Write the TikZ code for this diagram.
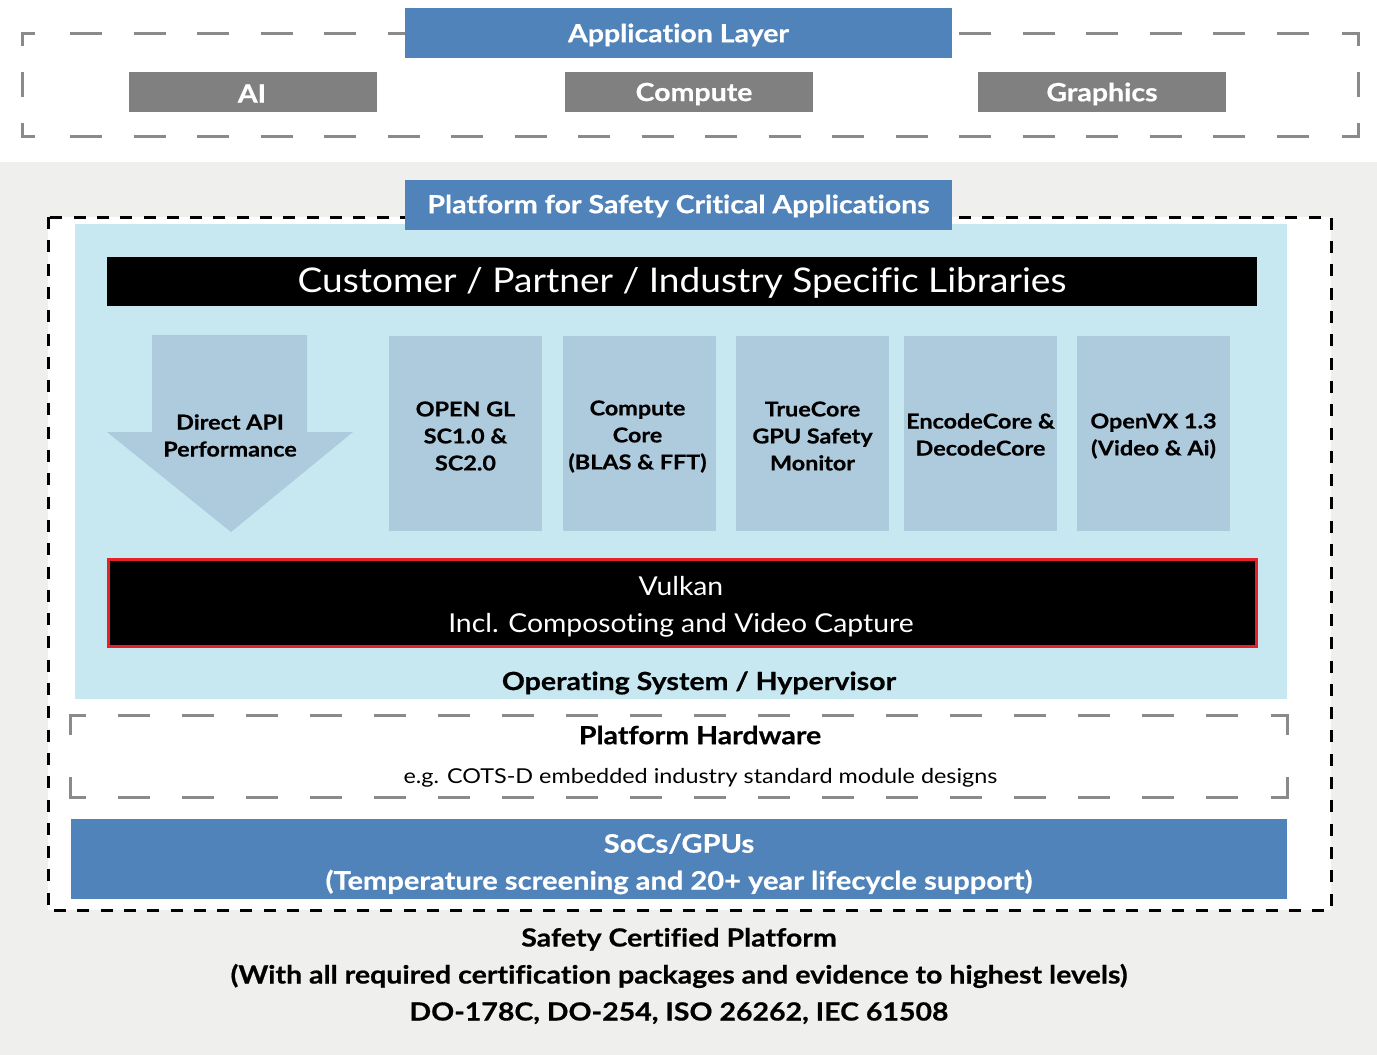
\documentclass[tikz,border=0pt]{standalone}
\usepackage{fontspec}
\setmainfont{Lato}[Ligatures=NoCommon]
\newfontfamily\wideb{Lato}[FakeStretch=1.14, FakeBold=0.6, Ligatures=NoCommon]
\newfontfamily\wider{Lato}[FakeStretch=1.09, Ligatures=NoCommon]
\newfontfamily\widest{Lato}[FakeStretch=1.14, Ligatures=NoCommon]
\definecolor{myblue}{HTML}{4F83B9}
\definecolor{mygray}{HTML}{808080}
\definecolor{lightbg}{HTML}{C7E8F1}
\definecolor{boxblue}{HTML}{AECBDD}
\definecolor{pagegray}{HTML}{EFEFED}
\definecolor{myred}{HTML}{E8202A}
\definecolor{dashgray}{HTML}{8A8A8A}
\tikzset{
  plain/.style={inner sep=0pt, outer sep=0pt},
  bluebox/.style={plain, fill=myblue, text=white, font=\wideb\bfseries\fontsize{25}{30}\selectfont},
  graybox/.style={plain, fill=mygray, text=white, font=\wideb\bfseries\fontsize{25}{30}\selectfont},
  compbox/.style={plain, fill=boxblue, minimum width=153, minimum height=195},
  comptext/.style={plain, align=center, font=\wideb\bfseries\fontsize{20.5}{27}\selectfont},
  graydash/.style={draw=dashgray, line width=3pt},
  blackdash/.style={draw=black, line width=3pt, dash pattern=on 12 off 11.3},
  title/.style={plain, font=\wideb\bfseries\fontsize{25}{30}\selectfont},
}
\begin{document}
\begin{tikzpicture}[x=1pt,y=-1pt]
\useasboundingbox (0,0) rectangle (1377,1055);
% backgrounds
\fill[white] (0,0) rectangle (1377,162);
\fill[pagegray] (0,162) rectangle (1377,1055);
% ---------- application layer ----------
\draw[graydash] (22,46) -- (22,33) -- (35,33);
\draw[graydash] (1342,33) -- (1358,33) -- (1358,46);
\draw[graydash] (22,123) -- (22,136) -- (35,136);
\draw[graydash] (1342,136) -- (1358,136) -- (1358,123);
\draw[graydash, dash pattern=on 32 off 31.5] (70,33) -- (1310,33);
\draw[graydash, dash pattern=on 32 off 31.5] (70,136) -- (1310,136);
\draw[graydash] (22,72) -- (22,97);
\draw[graydash] (1358,72) -- (1358,97);
\node[bluebox, minimum width=547, minimum height=50] (app) at (678.5,33) {};
\node[bluebox, fill=none] (applbl) at (678.5,35) {Application Layer};
\node[graybox, minimum width=248, minimum height=40] (ai) at (253,92) {};
\node[graybox, fill=none] (ailbl) at (252,93.5) {AI};
\node[graybox, minimum width=248, minimum height=40] (compute) at (689,92) {};
\node[graybox, fill=none] (complbl) at (694,94) {Compute};
\node[graybox, minimum width=248, minimum height=40] (graphics) at (1102,92) {};
\node[graybox, fill=none] (graphlbl) at (1102,94) {Graphics};
% ---------- safety platform ----------
\draw[blackdash, fill=white] (48,217) rectangle (1331,910);
\fill[lightbg] (75,224) rectangle (1287,699);
\node[bluebox, minimum width=547, minimum height=50] (psca) at (678.5,205) {};
\node[bluebox, fill=none] (pscalbl) at (678.5,206) {Platform for Safety Critical Applications};
\node[plain, fill=black, minimum width=1150, minimum height=49] (libs) at (682,281.5) {};
\node[plain, text=white, font=\wider\fontsize{34}{40}\selectfont] (libslbl) at (682,283) {Customer / Partner / Industry Specific Libraries};
% arrow
\path[fill=boxblue] (152,335) -- (307,335) -- (307,432) -- (353,432) -- (231,532) -- (107,432) -- (152,432) -- cycle;
\node[comptext] (direct) at (230,435.5) {Direct API\\Performance};
% component boxes
\node[compbox] (ogl) at (465.5,433.5) {};
\node[comptext] (ogllbl) at (465.5,436) {OPEN GL\\SC1.0 \&\\SC2.0};
\node[compbox] (cc) at (639.5,433.5) {};
\node[comptext] (cclbl) at (637.5,436.5) {Compute\\Core\\(BLAS \& FFT)};
\node[compbox] (tc) at (812.5,433.5) {};
\node[comptext] (tclbl) at (812.5,436) {TrueCore\\GPU Safety\\Monitor};
\node[compbox] (enc) at (980.5,433.5) {};
\node[comptext] (enclbl) at (980.5,434.5) {EncodeCore \&\\DecodeCore};
\node[compbox] (ovx) at (1153.5,433.5) {};
\node[comptext] (ovxlbl) at (1153.5,436) {OpenVX 1.3\\(Video \& Ai)};
% vulkan
\node[plain, draw=myred, line width=3pt, fill=black, minimum width=1148, minimum height=87] (vk) at (682.5,603) {};
\node[plain, text=white, font=\wider\fontsize{26}{37}\selectfont, align=center] (vklbl) at (681,607) {Vulkan\\Incl. Composoting and Video Capture};
\node[title] (os) at (699,683) {Operating System / Hypervisor};
% platform hardware
\draw[graydash] (70,735) -- (70,715) -- (86,715);
\draw[graydash] (1271,715) -- (1287,715) -- (1287,735);
\draw[graydash] (70,777) -- (70,797) -- (86,797);
\draw[graydash] (1271,797) -- (1287,797) -- (1287,777);
\draw[graydash, dash pattern=on 32 off 32] (118,715) -- (1239,715);
\draw[graydash, dash pattern=on 32 off 32] (118,797) -- (1239,797);
\node[title] (hw) at (700,735) {Platform Hardware};
\node[plain, font=\widest\fontsize{20.5}{24}\selectfont] (hwsub) at (700.5,778) {e.g. COTS-D embedded industry standard module designs};
% socs
\node[bluebox, minimum width=1216, minimum height=80] (soc) at (679,859) {};
\node[bluebox, fill=none, align=center, font=\wideb\bfseries\fontsize{25.5}{37}\selectfont] (soclbl) at (679,864) {SoCs/GPUs\\(Temperature screening and 20+ year lifecycle support)};
% bottom text
\node[title, align=center, font=\wideb\bfseries\fontsize{25}{37}\selectfont] (cert) at (679,976) {Safety Certified Platform\\(With all required certification packages and evidence to highest levels)\\DO-178C, DO-254, ISO 26262, IEC 61508};
\end{tikzpicture}
\end{document}
